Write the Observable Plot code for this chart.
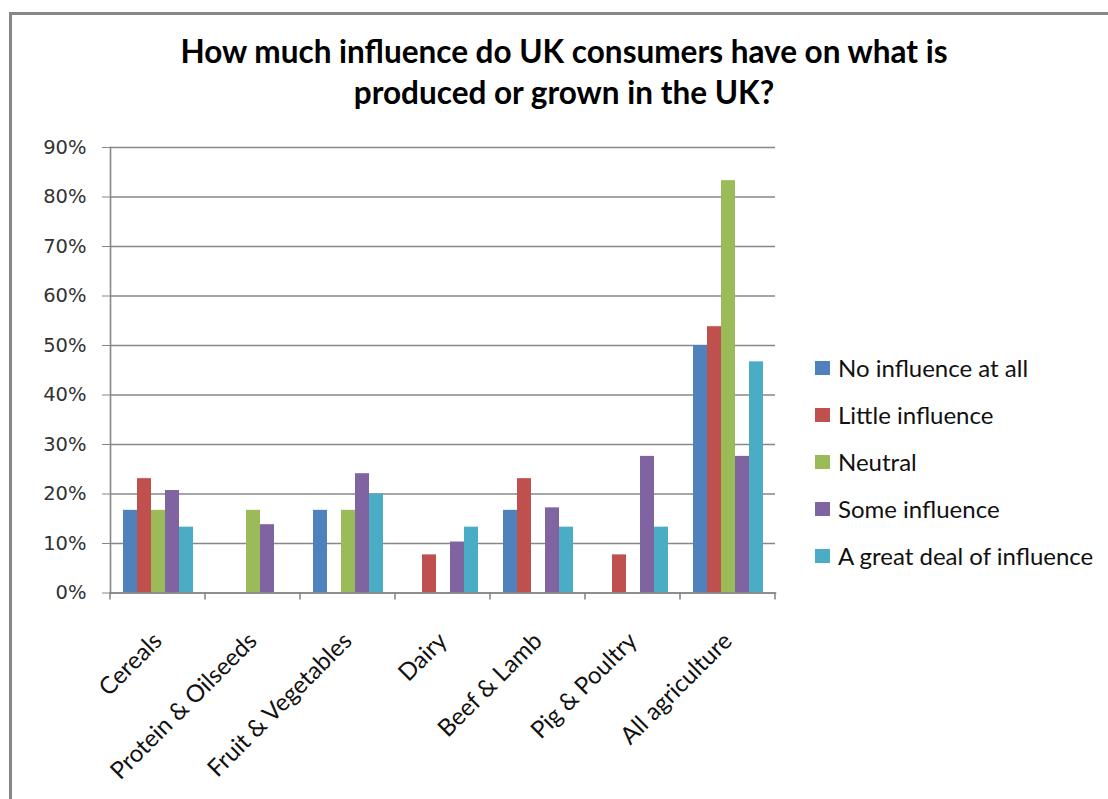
<!DOCTYPE html>
<html>
<head>
<meta charset="utf-8">
<script src="https://cdn.jsdelivr.net/npm/d3@7"></script>
<script src="https://cdn.jsdelivr.net/npm/@observablehq/plot@0.6"></script>
<style>
  html, body { margin: 0; padding: 0; background: #fff; overflow: hidden; }
  #wrap { position: relative; width: 1108px; height: 799px; overflow: hidden; font-family: Lato, "Open Sans", sans-serif; }
  #frameTop { position: absolute; left: 9px; top: 12px; width: 1099px; height: 3px; background: #878787; z-index: 3; }
  #frameLeft { position: absolute; left: 9px; top: 12px; width: 3px; height: 787px; background: #878787; z-index: 3; }
  #title { position: absolute; left: 64px; width: 1000px; top: 31px; text-align: center; font-weight: bold; font-size: 31.5px; line-height: 41px; color: #000; z-index: 2; }
  #legend { position: absolute; left: 815px; top: 344px; z-index: 2; }
  .row { display: flex; align-items: center; height: 47px; font-size: 24px; color: #111; white-space: nowrap; }
  .sw { width: 15px; height: 14px; margin-right: 8px; flex: none; }
  #chart { position: absolute; left: 0; top: 0; z-index: 1; }
</style>
</head>
<body>
<div id="wrap">
  <div id="frameTop"></div>
  <div id="frameLeft"></div>
  <div id="title">How much influence do UK consumers have on what is<br>produced or grown in the UK?</div>
  <div id="legend"></div>
  <div id="chart"></div>
</div>
<script>
const categories = ["Cereals", "Protein & Oilseeds", "Fruit & Vegetables", "Dairy", "Beef & Lamb", "Pig & Poultry", "All agriculture"];
const seriesNames = ["No influence at all", "Little influence", "Neutral", "Some influence", "A great deal of influence"];
const seriesColors = ["#4F81BD", "#C0504D", "#9BBB59", "#8064A2", "#4BACC6"];
const noInfluence     = [0.167, 0,     0.167, 0,     0.167, 0,     0.500];
const littleInfluence = [0.231, 0,     0,     0.077, 0.231, 0.077, 0.538];
const neutral         = [0.167, 0.167, 0.167, 0,     0,     0,     0.833];
const someInfluence   = [0.207, 0.138, 0.241, 0.103, 0.172, 0.276, 0.276];
const greatDeal       = [0.133, 0,     0.200, 0.133, 0.133, 0.133, 0.467];
const yTicks = [0, 0.1, 0.2, 0.3, 0.4, 0.5, 0.6, 0.7, 0.8, 0.9];

const seriesValues = [noInfluence, littleInfluence, neutral, someInfluence, greatDeal];
const data = [];
categories.forEach((c, i) => {
  seriesNames.forEach((s, j) => {
    data.push({category: c, series: s, value: seriesValues[j][i]});
  });
});

const grid = "#878787";
const chart = Plot.plot({
  width: 1108,
  height: 799,
  marginTop: 147,
  marginBottom: 206.5,
  marginLeft: 107,
  marginRight: 330,
  style: {background: "transparent", overflow: "visible", fontFamily: "Lato, 'Open Sans', sans-serif"},
  fx: {domain: categories, padding: 0},
  x: {domain: seriesNames, paddingInner: 0, paddingOuter: 0.78, axis: null},
  y: {domain: [0, 0.9]},
  color: {domain: seriesNames, range: seriesColors},
  marks: [
    Plot.gridY(yTicks, {stroke: grid, strokeOpacity: 1, strokeWidth: 1.6}),
    Plot.barY(data, {fx: "category", x: "series", y: "value", fill: "series"}),
    Plot.frame({anchor: "bottom", stroke: grid, strokeWidth: 1.6}),
    Plot.frame({anchor: "left", stroke: grid, strokeWidth: 1.6, facetAnchor: "left"}),
    Plot.axisY(yTicks, {tickFormat: d3.format(".0%"), tickSize: 8, tickPadding: 16, fontSize: 19.5, fontFamily: "DejaVu Sans", stroke: grid, fill: "#333", label: null}),
    Plot.axisFx({anchor: "bottom", tickRotate: -45, tickSize: 0, tickPadding: 44, fontSize: 24, fill: "#111", label: null})
  ]
});
document.getElementById("chart").appendChild(chart);

// category boundary tick marks
const fx = chart.scale("fx");
const y = chart.scale("y");
const y0 = y.apply(0);
const svg = d3.select(chart);
const bounds = categories.map(c => fx.apply(c)).concat([fx.apply(categories[categories.length - 1]) + fx.bandwidth]);
svg.append("g").selectAll("line").data(bounds).join("line")
  .attr("x1", d => d).attr("x2", d => d)
  .attr("y1", y0).attr("y2", y0 + 7)
  .attr("stroke", grid).attr("stroke-width", 1.6);

// legend
const legend = d3.select("#legend");
seriesNames.forEach((s, i) => {
  const row = legend.append("div").attr("class", "row");
  row.append("div").attr("class", "sw").style("background", seriesColors[i]);
  row.append("span").text(s);
});
</script>
</body>
</html>
